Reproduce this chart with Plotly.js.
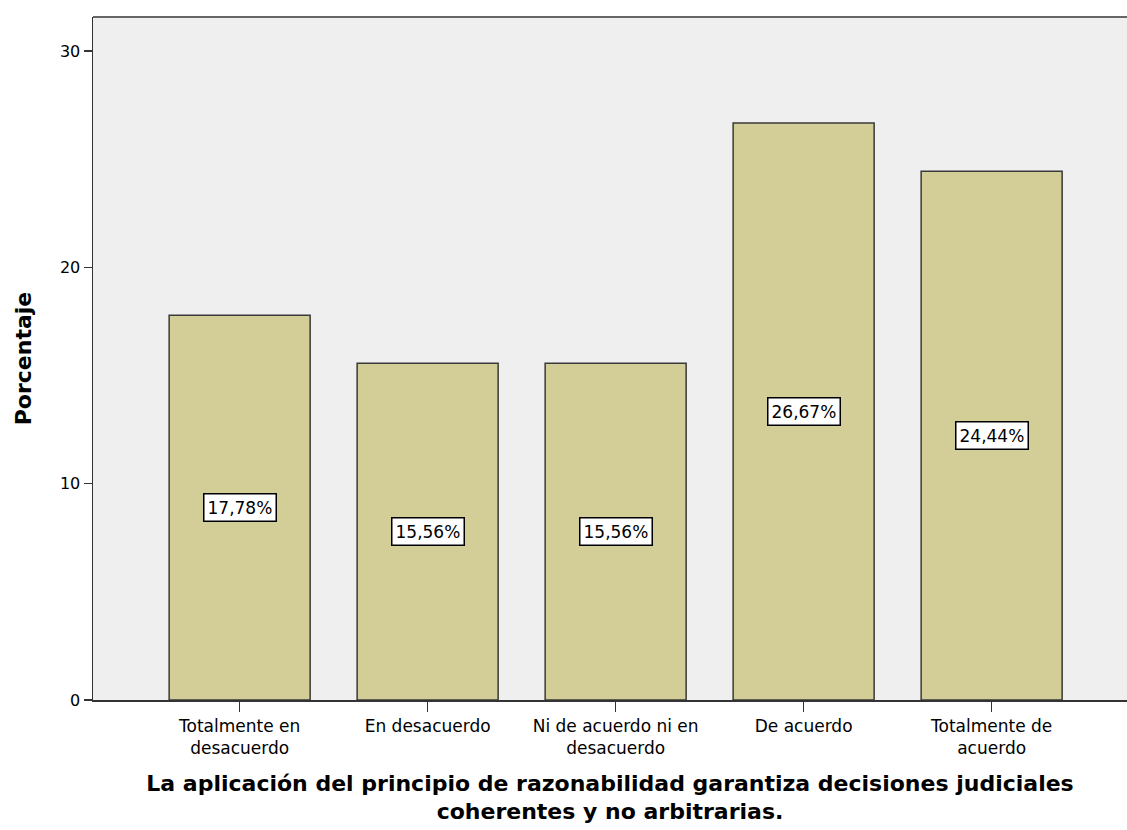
<!DOCTYPE html>
<html>
<head>
<meta charset="utf-8">
<script src="https://cdn.plot.ly/plotly-3.0.1.min.js"></script>
<style>html,body{margin:0;padding:0;background:#fff;}#chart{width:1127px;height:830px;}</style>
</head>
<body>
<div id="chart"></div>
<script>
const categories = ["Totalmente en<br>desacuerdo", "En desacuerdo", "Ni de acuerdo ni en<br>desacuerdo", "De acuerdo", "Totalmente de<br>acuerdo"];
const values = [17.78, 15.56, 15.56, 26.67, 24.44];
const labels = ["17,78%", "15,56%", "15,56%", "26,67%", "24,44%"];

const font = "DejaVu Sans, Liberation Sans, Arial, sans-serif";

const trace = {
  type: "bar",
  x: categories.map((c, i) => i),
  y: values,
  width: 0.75,
  marker: {color: "#D3CE97", line: {color: "#3a3a3a", width: 1.5}},
  hoverinfo: "none"
};

const annotations = values.map((v, i) => ({
  x: i, y: v / 2, xref: "x", yref: "y",
  text: labels[i], showarrow: false,
  font: {family: font, size: 17, color: "#000"},
  bgcolor: "#ffffff", bordercolor: "#000000", borderwidth: 1.5, borderpad: 3
}));

const layout = {
  width: 1127, height: 830,
  margin: {l: 93, r: 0, t: 17, b: 130},
  paper_bgcolor: "#ffffff",
  plot_bgcolor: "#EFEFEF",
  showlegend: false,
  font: {family: font, size: 16, color: "#000"},
  xaxis: {
    range: [-0.78, 4.72],
    tickvals: [0, 1, 2, 3, 4],
    ticktext: categories,
    ticks: "outside", ticklen: 10, tickcolor: "#333", tickwidth: 1.5,
    showline: true, linecolor: "#333", linewidth: 1.5,
    showgrid: false, zeroline: false,
    tickfont: {family: font, size: 17, color: "#000"},
    title: {text: "La aplicación del principio de razonabilidad garantiza decisiones judiciales<br>coherentes y no arbitrarias.", font: {family: font, size: 22, color: "#000", weight: "bold"}, standoff: 18}
  },
  yaxis: {
    range: [0, 31.57],
    tickvals: [0, 10, 20, 30],
    ticks: "outside", ticklen: 8, tickcolor: "#333", tickwidth: 1.5,
    showline: true, linecolor: "#333", linewidth: 1.5,
    showgrid: false, zeroline: false,
    tickfont: {family: font, size: 16, color: "#000"},
    title: {text: "Porcentaje", font: {family: font, size: 22, color: "#000", weight: "bold"}, standoff: 22}
  },
  shapes: [{type: "line", xref: "paper", yref: "paper", x0: 0, x1: 1, y0: 1, y1: 1, line: {color: "#666", width: 2}}],
  annotations: annotations
};

Plotly.newPlot("chart", [trace], layout, {displayModeBar: false, staticPlot: true});
</script>
</body>
</html>
